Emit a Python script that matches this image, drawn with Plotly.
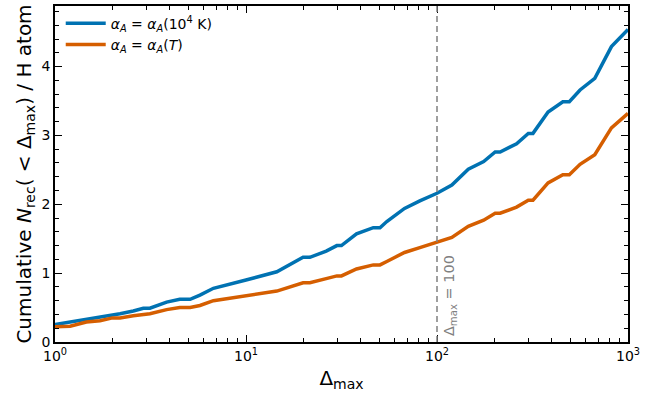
import math
import plotly.graph_objects as go

# Cumulative recombinations per H atom vs clumping cutoff
delta_max = [1, 1.2, 1.46, 1.72, 2.0, 2.19, 2.57, 2.9, 3.14, 3.84, 4.5, 5.1, 5.74, 6.75, 10,
             14.5, 19.9, 21.6, 26.3, 29.9, 31.6, 37.9, 46.4, 50.3, 54.6, 67.6, 81.3, 100,
             119.6, 145.8, 175.5, 201.6, 214, 261, 300.6, 318, 381.5, 456, 493, 561, 670, 819, 1000]
n_rec_fixed = [0.255, 0.29, 0.34, 0.365, 0.40, 0.41, 0.45, 0.49, 0.49, 0.58, 0.62, 0.62, 0.68, 0.78, 0.90,
               1.02, 1.23, 1.23, 1.32, 1.40, 1.40, 1.57, 1.66, 1.66, 1.75, 1.94, 2.05, 2.16,
               2.28, 2.51, 2.62, 2.76, 2.76, 2.88, 3.03, 3.03, 3.34, 3.49, 3.49, 3.66, 3.83, 4.29, 4.54]
n_rec_temp = [0.22, 0.23, 0.29, 0.31, 0.35, 0.35, 0.38, 0.40, 0.41, 0.47, 0.50, 0.50, 0.53, 0.60, 0.67,
              0.74, 0.86, 0.86, 0.92, 0.96, 0.96, 1.06, 1.12, 1.12, 1.17, 1.30, 1.37, 1.45,
              1.52, 1.68, 1.77, 1.87, 1.87, 1.96, 2.06, 2.06, 2.31, 2.43, 2.43, 2.58, 2.72, 3.11, 3.32]

x_tickvals = [1, 10, 100, 1000]
x_ticktext = ["10<sup>0</sup>", "10<sup>1</sup>", "10<sup>2</sup>", "10<sup>3</sup>"]
y_tickvals = [0, 1, 2, 3, 4]
cutoff = 100

# log minor ticks at 2..9 within each decade
x_minor = [m * 10 ** k for k in range(3) for m in range(2, 10)]

FONT = "DejaVu Sans"

fig = go.Figure()
fig.add_trace(go.Scatter(
    x=delta_max, y=n_rec_fixed, mode="lines",
    line=dict(color="#0072B2", width=3.5),
    name="<i>α<sub>A</sub></i> = <i>α<sub>A</sub></i>(10<sup>4</sup> K)",
))
fig.add_trace(go.Scatter(
    x=delta_max, y=n_rec_temp, mode="lines",
    line=dict(color="#D55E00", width=3.5),
    name="<i>α<sub>A</sub></i> = <i>α<sub>A</sub></i>(<i>T</i>)",
))

# vertical marker at the chosen cutoff
fig.add_shape(type="line", xref="x", yref="paper", x0=cutoff, x1=cutoff, y0=0, y1=1,
              line=dict(color="#808080", width=1.5, dash="6px,4px"))
# annotations on a log axis take log10 positions
fig.add_annotation(x=math.log10(cutoff), xref="x", y=0.05, yref="y", xanchor="left", yanchor="bottom",
                   xshift=2, text=f"Δ<sub>max</sub> = {cutoff}", textangle=-90, showarrow=False,
                   font=dict(family=FONT, size=14.5, color="#808080"))

axis_common = dict(
    showline=True, linecolor="black", linewidth=1.5, mirror="allticks",
    ticks="inside", ticklen=7, tickwidth=1.2, tickcolor="black",
    showgrid=False, zeroline=False,
    tickfont=dict(family=FONT, size=14, color="black"),
)

fig.update_xaxes(
    type="log", range=[0, 3], tickvals=x_tickvals, ticktext=x_ticktext,
    title=dict(text="Δ<sub>max</sub>", font=dict(family=FONT, size=20, color="black"), standoff=8),
    minor=dict(tickvals=x_minor, ticks="inside", ticklen=4, tickwidth=1, tickcolor="black", showgrid=False),
    **axis_common,
)
fig.update_yaxes(
    range=[0, 4.88], tickvals=y_tickvals,
    title=dict(text="Cumulative <i>N</i><sub>rec</sub>( < Δ<sub>max</sub>) / H atom",
               font=dict(family=FONT, size=20, color="black"), standoff=5),
    minor=dict(dtick=0.2, ticks="inside", ticklen=4, tickwidth=1, tickcolor="black", showgrid=False),
    **axis_common,
)

fig.update_layout(
    width=668, height=397,
    margin=dict(l=55, r=40, t=4, b=55),
    plot_bgcolor="white", paper_bgcolor="white",
    font=dict(family=FONT, color="black"),
    legend=dict(x=0.01, y=0.995, xanchor="left", yanchor="top",
                font=dict(family=FONT, size=14), bgcolor="rgba(0,0,0,0)",
                itemwidth=40, tracegroupgap=2),
    showlegend=True,
)

fig.write_html("out.html")
